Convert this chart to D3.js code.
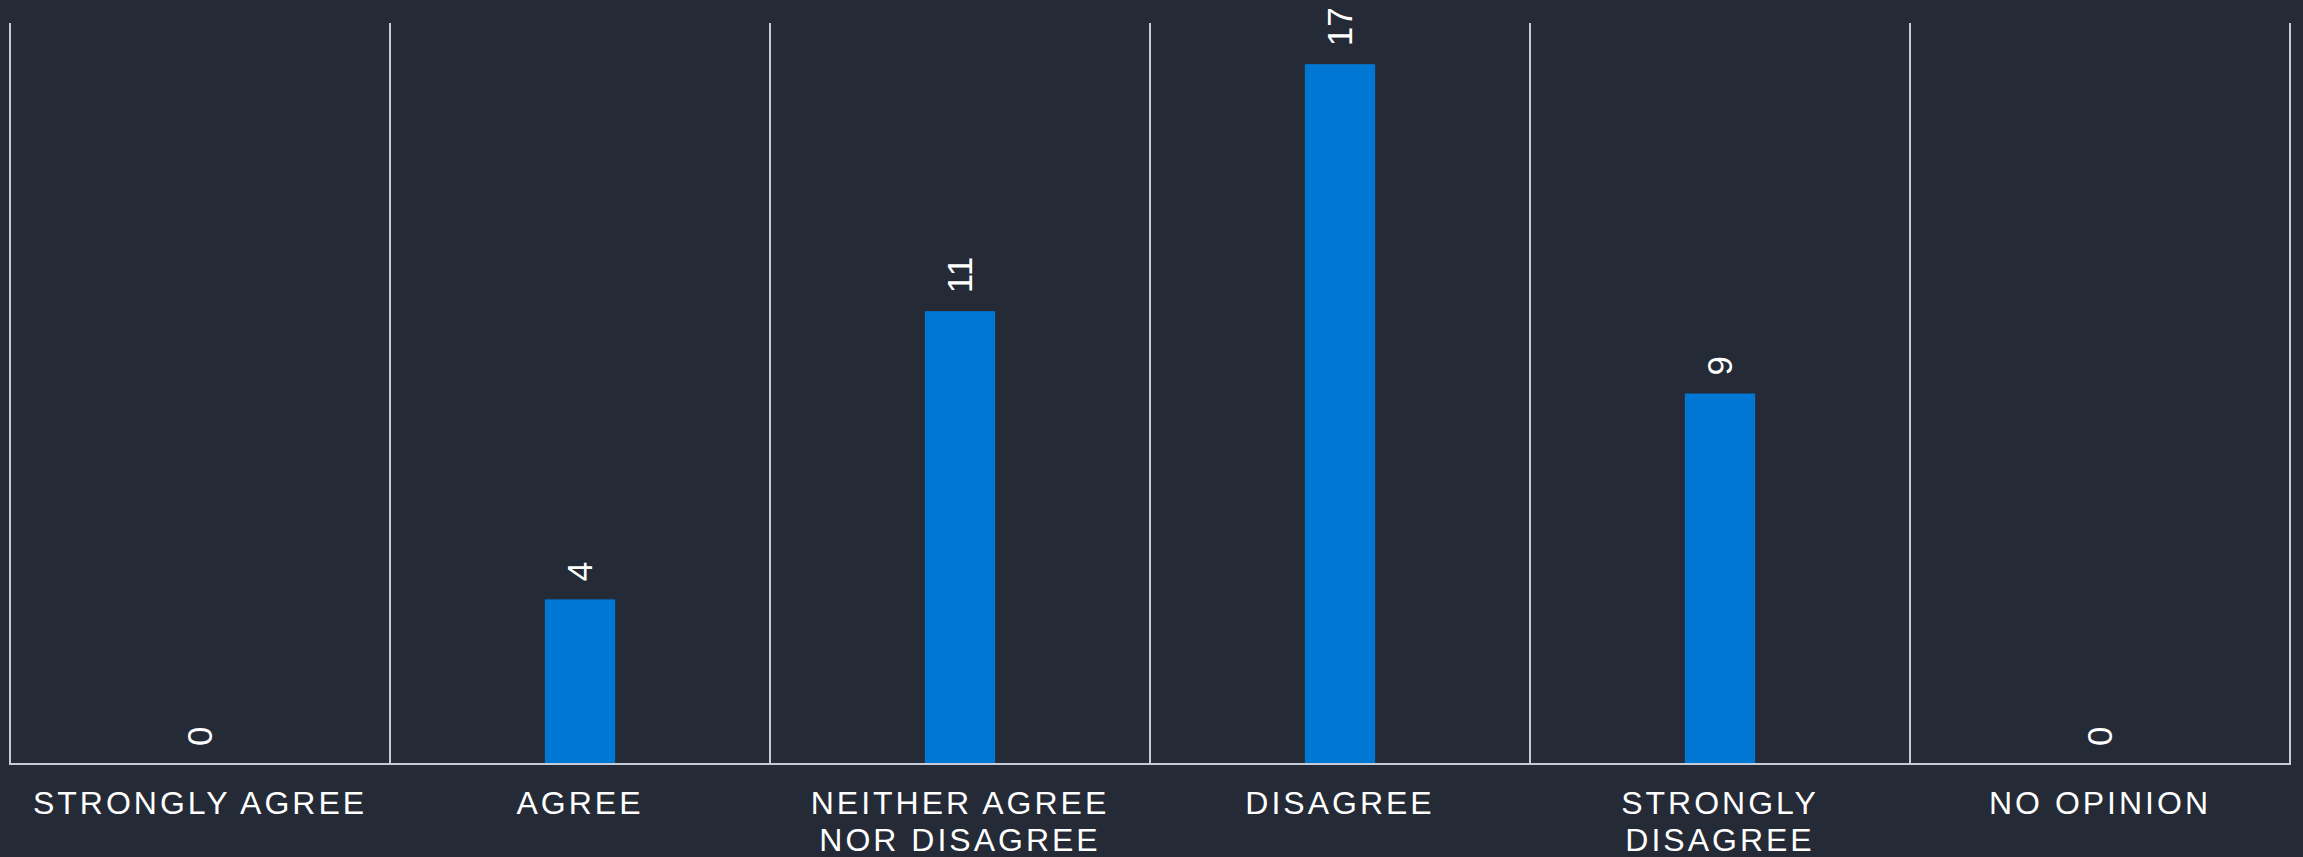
<!DOCTYPE html>
<html>
<head>
<meta charset="utf-8">
<script src="https://cdn.jsdelivr.net/npm/d3@7"></script>
<style>
  html, body { margin: 0; padding: 0; background: #242a36; }
  svg { display: block; }
  text { font-family: "Liberation Sans", Arial, sans-serif; fill: #ffffff; }
</style>
</head>
<body>
<svg id="chart" width="2303" height="857"></svg>
<script>
// Survey response counts
const categories = ["STRONGLY AGREE", "AGREE", "NEITHER AGREE NOR DISAGREE", "DISAGREE", "STRONGLY DISAGREE", "NO OPINION"];
const counts = [0, 4, 11, 17, 9, 0];
const yMax = 18;

const W = 2303, H = 857;
const plot = { left: 10, right: 2290, top: 23, bottom: 764 };

const svg = d3.select("#chart");

const x = d3.scaleBand()
  .domain(categories)
  .range([plot.left, plot.right])
  .padding(0);

const y = d3.scaleLinear()
  .domain([0, yMax])
  .range([plot.bottom, plot.top]);

const barW = x.bandwidth() * 0.185;
const lineColor = "#c6ccd6";

// vertical separators at every band edge
const edges = categories.map(c => x(c)).concat([x.range()[1]]);
svg.append("g")
  .selectAll("line")
  .data(edges)
  .join("line")
  .attr("x1", d => d).attr("x2", d => d)
  .attr("y1", y(yMax)).attr("y2", y(0))
  .attr("stroke", lineColor)
  .attr("stroke-width", 2);

// bars
const data = categories.map((c, i) => ({ cat: c, value: counts[i] }));
svg.append("g")
  .selectAll("rect")
  .data(data)
  .join("rect")
  .attr("x", d => x(d.cat) + x.bandwidth() / 2 - barW / 2)
  .attr("y", d => y(d.value))
  .attr("width", barW)
  .attr("height", d => y(0) - y(d.value))
  .attr("fill", "#0077d2");

// baseline
svg.append("line")
  .attr("x1", plot.left - 1).attr("x2", plot.right + 1)
  .attr("y1", y(0)).attr("y2", y(0))
  .attr("stroke", lineColor)
  .attr("stroke-width", 2);

// rotated value labels above each bar
svg.append("g")
  .selectAll("text")
  .data(data)
  .join("text")
  .attr("transform", d => `translate(${x(d.cat) + x.bandwidth() / 2},${y(d.value) - 18}) rotate(-90)`)
  .attr("dy", "0.35em")
  .attr("text-anchor", "start")
  .style("font-size", "35px")
  .text(d => d.value);

// category labels, wrapped to the band width
const labelG = svg.append("g");
const maxW = x.bandwidth() - 12;
categories.forEach(c => {
  const cx = x(c) + x.bandwidth() / 2;
  const t = labelG.append("text")
    .attr("x", cx)
    .attr("y", y(0) + 50)
    .attr("text-anchor", "middle")
    .style("font-size", "32px")
    .style("letter-spacing", "3px");
  const words = c.split(" ");
  let line = [];
  let tspan = t.append("tspan").attr("x", cx).attr("dy", 0);
  words.forEach(w => {
    line.push(w);
    tspan.text(line.join(" "));
    if (tspan.node().getComputedTextLength() > maxW && line.length > 1) {
      line.pop();
      tspan.text(line.join(" "));
      line = [w];
      tspan = t.append("tspan")
        .attr("x", cx)
        .attr("dy", "36.7px")
        .text(w);
    }
  });
});
</script>
</body>
</html>
